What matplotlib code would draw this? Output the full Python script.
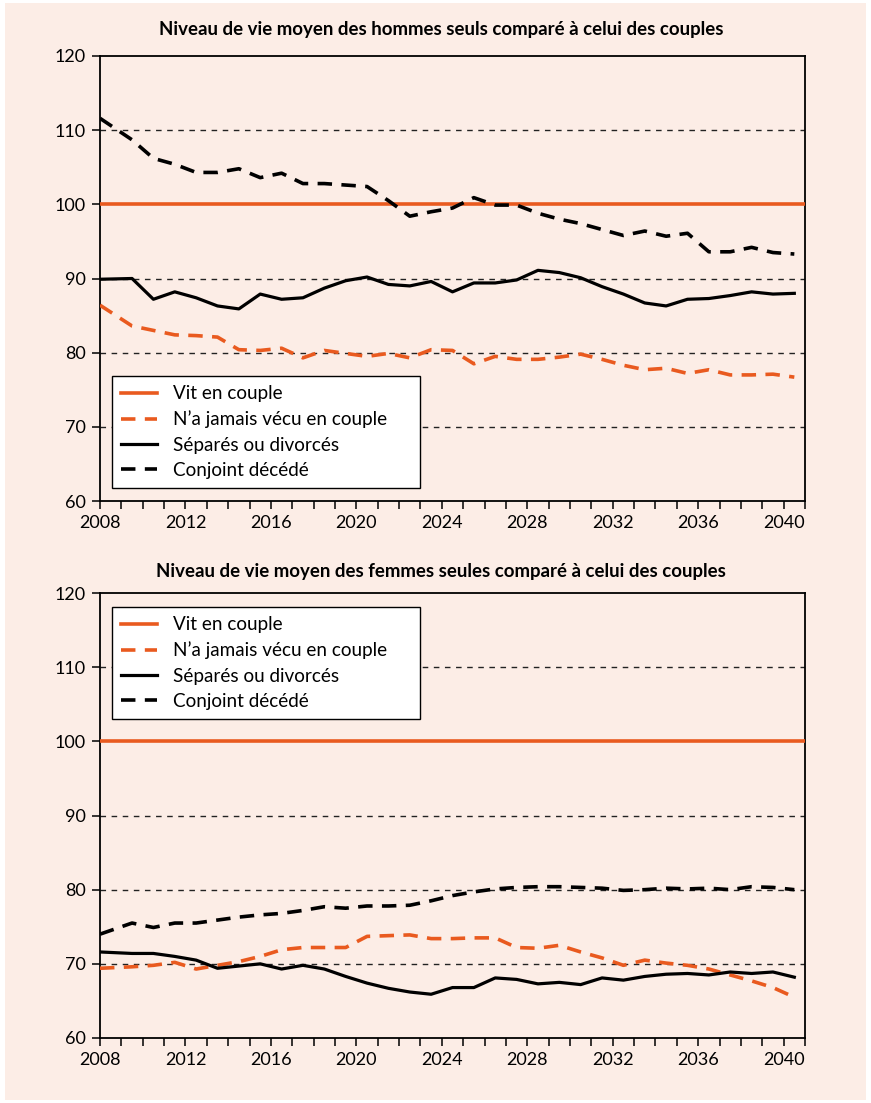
import matplotlib.pyplot as plt
from matplotlib.patches import Rectangle
from matplotlib.lines import Line2D

plt.rcParams['font.family'] = ['Lato', 'DejaVu Sans']

# positions des points sur l'axe des années
annees = [2008, 2009.5, 2010.5, 2011.5, 2012.5, 2013.5, 2014.5, 2015.5, 2016.5,
          2017.5, 2018.5, 2019.5, 2020.5, 2021.5, 2022.5, 2023.5, 2024.5,
          2025.5, 2026.5, 2027.5, 2028.5, 2029.5, 2030.5, 2031.5, 2032.5,
          2033.5, 2034.5, 2035.5, 2036.5, 2037.5, 2038.5, 2039.5, 2040.5]

# hommes seuls
h_jamais = [86.4, 83.6, 83.0, 82.4, 82.3, 82.1, 80.4, 80.3, 80.6, 79.3, 80.3,
            79.9, 79.5, 79.9, 79.3, 80.4, 80.3, 78.5, 79.5, 79.1, 79.1, 79.4,
            79.8, 79.1, 78.3, 77.7, 77.9, 77.2, 77.7, 77.0, 77.0, 77.1, 76.7]
h_separes = [89.9, 90.0, 87.2, 88.2, 87.4, 86.3, 85.9, 87.9, 87.2, 87.4, 88.7,
             89.7, 90.2, 89.2, 89.0, 89.6, 88.2, 89.4, 89.4, 89.8, 91.1, 90.8,
             90.1, 88.9, 87.9, 86.7, 86.3, 87.2, 87.3, 87.7, 88.2, 87.9, 88.0]
h_decede = [111.6, 108.7, 106.2, 105.4, 104.3, 104.3, 104.8, 103.6, 104.2, 102.8,
            102.8, 102.6, 102.4, 100.5, 98.4, 99.0, 99.5, 100.9, 99.9, 99.9,
            98.8, 98.0, 97.4, 96.6, 95.8, 96.4, 95.7, 96.1, 93.6, 93.6, 94.2,
            93.5, 93.3]

# femmes seules
f_jamais = [69.4, 69.6, 69.8, 70.2, 69.3, 69.8, 70.3, 71.0, 71.9, 72.2, 72.2,
            72.2, 73.7, 73.8, 73.9, 73.4, 73.4, 73.5, 73.5, 72.2, 72.1, 72.5,
            71.6, 70.8, 69.8, 70.5, 70.1, 69.8, 69.3, 68.5, 67.7, 66.8, 65.5]
f_separes = [71.6, 71.4, 71.4, 71.0, 70.5, 69.4, 69.7, 70.0, 69.3, 69.8, 69.3,
             68.3, 67.4, 66.7, 66.2, 65.9, 66.8, 66.8, 68.1, 67.9, 67.3, 67.5,
             67.2, 68.1, 67.8, 68.3, 68.6, 68.7, 68.5, 68.9, 68.7, 68.9, 68.2]
f_decede = [74.0, 75.5, 74.9, 75.5, 75.5, 75.9, 76.3, 76.6, 76.8, 77.2, 77.7,
            77.5, 77.8, 77.8, 77.9, 78.5, 79.2, 79.7, 80.1, 80.3, 80.4, 80.4,
            80.3, 80.2, 79.9, 80.0, 80.2, 80.1, 80.2, 80.0, 80.4, 80.3, 80.0]

couple = 100
labels = ['Vit en couple', 'N\u2019a jamais vécu en couple',
          'Séparés ou divorcés', 'Conjoint décédé']
titres = ['Niveau de vie moyen des hommes seuls comparé à celui des couples',
          'Niveau de vie moyen des femmes seules comparé à celui des couples']

orange = '#E95A1F'
fond = '#FCEDE6'

W, H = 871, 1103
fig = plt.figure(figsize=(W / 100, H / 100), dpi=100, facecolor='white')
fig.patches.append(Rectangle((5 / W, 3 / H), 861 / W, 1097 / H, transform=fig.transFigure,
                             facecolor=fond, edgecolor='none', zorder=-10))


def panel(top_px, titre, titre_y, jamais, separes, decede, leg_top_px):
    ax = fig.add_axes([100 / W, 1 - (top_px + 445) / H, 705 / W, 445 / H])
    ax.set_facecolor(fond)
    ax.set_xlim(2008, 2041)
    ax.set_ylim(60, 120)
    for g in [70, 80, 90, 110]:
        ax.axhline(g, color='#222222', lw=1.0, ls=(0, (4, 4)), zorder=1)
    ax.axhline(couple, color=orange, lw=2.6, zorder=3)
    ax.plot(annees, jamais, color=orange, lw=2.6, ls=(0, (4, 2.6)), zorder=3)
    ax.plot(annees, separes, color='black', lw=2.3, zorder=4)
    ax.plot(annees, decede, color='black', lw=2.6, ls=(0, (4, 2.6)), zorder=4)

    ax.set_yticks(range(60, 121, 10))
    ax.set_xticks(range(2008, 2042))
    ax.set_xticklabels([str(a) if (a - 2008) % 4 == 0 else '' for a in range(2008, 2042)])
    ax.tick_params(axis='both', direction='out', length=6, width=1.1, color='black',
                   labelsize=13, pad=4)
    for s in ax.spines.values():
        s.set_linewidth(1.3)

    fig.text(441 / W, 1 - titre_y / H, titre, ha='center', va='center',
             fontsize=13.4, fontweight='bold')

    handles = [Line2D([], [], color=orange, lw=2.6),
               Line2D([], [], color=orange, lw=2.6, ls=(0, (4, 2.6))),
               Line2D([], [], color='black', lw=2.3),
               Line2D([], [], color='black', lw=2.6, ls=(0, (4, 2.6)))]
    leg = ax.legend(handles, labels, loc='upper left', mode='expand',
                    bbox_to_anchor=(112 / W, 1 - (leg_top_px + 112) / H, 308 / W, 112 / H),
                    bbox_transform=fig.transFigure, fontsize=13.6, frameon=True,
                    fancybox=False, framealpha=1, edgecolor='black', borderpad=0.5,
                    handlelength=1.9, handletextpad=0.85, labelspacing=0.43,
                    borderaxespad=0)
    leg.get_frame().set_linewidth(1.0)
    return ax


panel(56, titres[0], 30, h_jamais, h_separes, h_decede, 376)
panel(593, titres[1], 572, f_jamais, f_separes, f_decede, 607)

fig.savefig('out.png', dpi=100, facecolor='white')
